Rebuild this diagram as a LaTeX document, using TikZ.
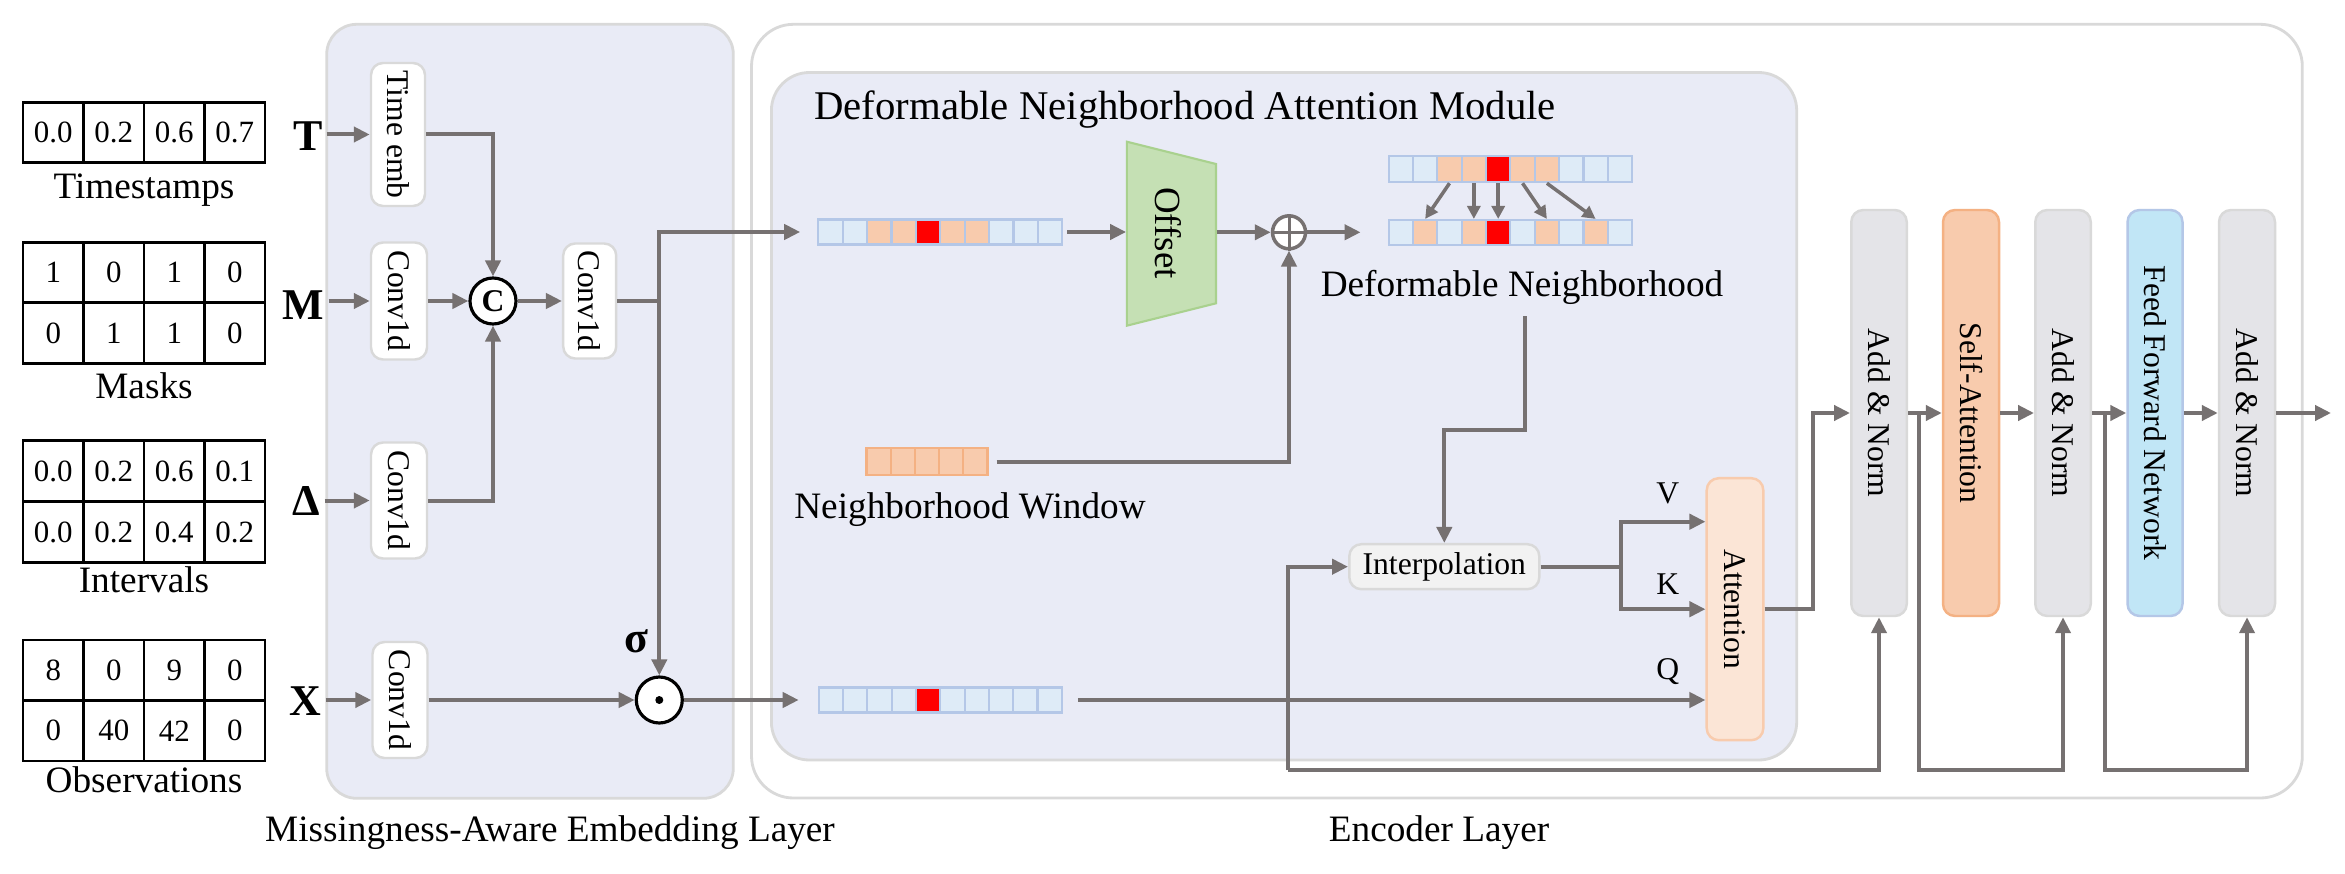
\documentclass[tikz,border=0pt]{standalone}
\usepackage{fontspec}
\setmainfont{Liberation Serif}
\usetikzlibrary{arrows.meta,calc}

\definecolor{arrgray}{RGB}{118,113,113}
\definecolor{panelbg}{RGB}{233,235,246}
\definecolor{panelbd}{RGB}{217,217,217}
\definecolor{cellblue}{RGB}{222,235,247}
\definecolor{cellbluebd}{RGB}{180,199,231}
\definecolor{cellorange}{RGB}{248,203,173}
\definecolor{orangebd}{RGB}{244,177,131}
\definecolor{attfill}{RGB}{251,229,214}
\definecolor{normfill}{RGB}{228,228,232}
\definecolor{ffnfill}{RGB}{193,230,246}
\definecolor{offsetfill}{RGB}{197,224,180}
\definecolor{offsetbd}{RGB}{169,209,142}
\definecolor{interpfill}{RGB}{242,242,242}

\begin{document}
\begin{tikzpicture}[x=0.1mm,y=-0.1mm,
  panel/.style={draw=panelbd,line width=0.8pt},
  box/.style={draw=panelbd,line width=0.7pt,fill=white,rounded corners=1.2mm,inner sep=0},
  ln/.style={draw=arrgray,line width=0.4mm},
  arr/.style={ln,-{Triangle[length=1.6mm,width=1.5mm]}},
  arrsmall/.style={draw=arrgray,line width=0.35mm,-{Triangle[length=1.3mm,width=1.3mm]}},
  tcell/.style={draw=black,line width=0.8pt,minimum width=6.05mm,minimum height=6.05mm,inner sep=0,font=\fontsize{8.8}{10}\selectfont},
  sq/.style={draw=cellbluebd,line width=0.6pt,minimum width=2.43mm,minimum height=2.5mm,inner sep=0},
  rot/.style={rotate=-90,font=\fontsize{9}{10}\selectfont,inner sep=0},
  lbl/.style={font=\fontsize{10.6}{12}\selectfont,inner sep=0},
  letter/.style={font=\fontsize{12.5}{14}\selectfont\bfseries,anchor=base east,inner sep=0},
  small/.style={font=\fontsize{9}{10}\selectfont,inner sep=0}]

\useasboundingbox (0,0) rectangle (2345,874);

% background panels
\draw[panel,fill=white,rounded corners=4.2mm] (751.5,24.3) rectangle (2302.3,798);
\draw[panel,fill=panelbg,rounded corners=3mm] (326.7,24.3) rectangle (733.3,798.3);
\draw[panel,fill=panelbg,rounded corners=3.8mm] (771.4,72.5) rectangle (1796.7,760);

% input tables
\foreach \v [count=\i from 0] in {0.0,0.2,0.6,0.7}
  \node[tcell] (ts\i) at ({53.25+\i*60.5},132.5) {\v};
\foreach \v [count=\i from 0] in {1,0,1,0}
  \node[tcell] (ma\i) at ({53.25+\i*60.5},272.5) {\v};
\foreach \v [count=\i from 0] in {0,1,1,0}
  \node[tcell] (mb\i) at ({53.25+\i*60.5},333) {\v};
\foreach \v [count=\i from 0] in {0.0,0.2,0.6,0.1}
  \node[tcell] (ia\i) at ({53.25+\i*60.5},471) {\v};
\foreach \v [count=\i from 0] in {0.0,0.2,0.4,0.2}
  \node[tcell] (ib\i) at ({53.25+\i*60.5},532) {\v};
\foreach \v [count=\i from 0] in {8,0,9,0}
  \node[tcell] (oa\i) at ({53.25+\i*60.5},670.3) {\v};
\foreach \v [count=\i from 0] in {0,40,42,0}
  \node[tcell] (ob\i) at ({53.25+\i*60.5},730.8) {\v};

\node[lbl,anchor=base] (tsl) at (144,198.3) {Timestamps};
\node[lbl,anchor=base] (mal) at (144,398.3) {Masks};
\node[lbl,anchor=base] (inl) at (144,592.7) {Intervals};
\node[lbl,anchor=base] (obl) at (144,792.7) {Observations};

\node[letter] (lT) at (323,150.7) {T};
\node[letter] (lM) at (325,319.3) {M};
\node[letter] (lD) at (321,515) {Δ};
\node[letter] (lX) at (322,715) {X};

% embedding layer blocks
\node[box,minimum width=5.4mm,minimum height=14.3mm] (timeemb) at (398,134.5) {};
\node[rot] (timeembT) at (timeemb) {Time emb};
\node[box,minimum width=5.6mm,minimum height=11.7mm] (convM) at (399,301) {};
\node[rot] (convMT) at (convM) {Conv1d};
\node[box,minimum width=5.6mm,minimum height=11.6mm] (convD) at (399,500.5) {};
\node[rot] (convDT) at (convD) {Conv1d};
\node[box,minimum width=5.5mm,minimum height=11.6mm] (convX) at (400,700) {};
\node[rot] (convXT) at (convX) {Conv1d};
\node[box,minimum width=5.3mm,minimum height=11.5mm] (convMid) at (589.7,301) {};
\node[rot] (convMidT) at (convMid) {Conv1d};

\node[circle,draw=black,line width=0.9pt,fill=white,minimum size=4.6mm,inner sep=0,
      font=\fontsize{9}{10}\selectfont\bfseries] (cc) at (493,301) {C};
\node[circle,draw=black,line width=0.9pt,fill=white,minimum size=4.6mm,inner sep=0] (odot) at (659.3,700) {};
\fill (odot.center) circle (0.4mm);
\node[font=\fontsize{12.5}{14}\selectfont\bfseries,inner sep=0] (sig) at (636,641) {σ};

\draw[arr,shorten <=0.35mm] (lT.east |- timeemb.west) -- (timeemb.west);
\draw[arr,shorten <=0.35mm] (lM.east |- convM.west) -- (convM.west);
\draw[arr,shorten <=0.35mm] (lD.east |- convD.west) -- (convD.west);
\draw[arr,shorten <=0.35mm] (lX.east |- convX.west) -- (convX.west);

\draw[arr] (timeemb.east) -| (cc.north);
\draw[arr] (convM.east) -- (cc.west);
\draw[arr] (convD.east) -| (cc.south);
\draw[arr] (cc.east) -- (convMid.west);
\coordinate (jn) at (659.3,301);
\draw[ln] (convMid.east) -- (jn);
\draw[arr] (jn) -- (odot.north);
\draw[arr] (convX.east) -- (odot.west);

% deformable neighborhood attention module
\node[font=\fontsize{11.6}{13}\selectfont,anchor=base west,inner sep=0] (title) at (813.6,120) {Deformable Neighborhood Attention Module};

\foreach \c [count=\i from 0] in {cellblue,cellblue,cellorange,cellorange,red,cellorange,cellorange,cellblue,cellblue,cellblue}
  \node[sq,fill=\c] (a\i) at ({830.4+\i*24.4},232) {};
\foreach \c [count=\i from 0] in {cellblue,cellblue,cellblue,cellblue,red,cellblue,cellblue,cellblue,cellblue,cellblue}
  \node[sq,fill=\c] (c\i) at ({830.9+\i*24.3},700) {};
\foreach \c [count=\i from 0] in {cellblue,cellblue,cellorange,cellorange,red,cellorange,cellorange,cellblue,cellblue,cellblue}
  \node[sq,fill=\c,minimum height=2.6mm] (t\i) at ({1400.8+\i*24.35},169.2) {};
\foreach \c [count=\i from 0] in {cellblue,cellorange,cellblue,cellorange,red,cellblue,cellorange,cellblue,cellorange,cellblue}
  \node[sq,fill=\c] (b\i) at ({1400.8+\i*24.35},232.5) {};
\foreach \i in {0,...,4}
  \node[sq,fill=cellorange,draw=orangebd,minimum height=2.7mm,minimum width=2.42mm] (w\i) at ({878.6+\i*24.2},461.8) {};

\draw[arr,shorten >=1.7mm] (jn) |- (a0.west);
\draw[arr,shorten >=1.9mm] (odot.east) -- (odot.east -| c0.west);

% offset network
\node[minimum width=8.92mm,minimum height=18.4mm,inner sep=0] (offset) at (1171.4,233.7) {};
\draw[draw=offsetbd,fill=offsetfill,line width=0.6pt]
  (1126.8,141.7) -- (1216,164) -- (1216,303.3) -- (1126.8,325.7) -- cycle;
\node[rot,font=\fontsize{10.5}{12}\selectfont] (offsetT) at (1168,233) {Offset};

\node[circle,draw=arrgray,line width=0.35mm,fill=white,minimum size=3.3mm,inner sep=0] (oplus) at (1289,232.3) {};
\draw[draw=arrgray,line width=0.3mm] (oplus.north) -- (oplus.south) (oplus.west) -- (oplus.east);

\draw[arr,shorten <=0.4mm] (a9.east) -- (a9.east -| offset.west);
\draw[arr] (offset.east |- oplus.west) -- (oplus.west);
\draw[arr,shorten >=2.7mm] (oplus.east) -- (oplus.east -| b0.west);
\draw[arr,shorten <=0.8mm] (w4.east) -| (oplus.south);

\draw[arrsmall] (t2.south) -- (b1.north);
\draw[arrsmall] (t3.south) -- (b3.north);
\draw[arrsmall] (t4.south) -- (b4.north);
\draw[arrsmall] (t5.south) -- (b6.north);
\draw[arrsmall] (t6.south) -- (b8.north);

\node[lbl,anchor=base] (dnlbl) at (1522,296.7) {Deformable Neighborhood};
\node[lbl,anchor=base] (nwlbl) at (970,518.3) {Neighborhood Window};

\node[box,fill=interpfill,minimum width=19mm,minimum height=4.5mm,font=\fontsize{9}{10}\selectfont] (interp) at (1444.3,566.7) {Interpolation};
\coordinate (dnout) at (1525,316);
\draw[arr] (dnout) -- (1525,430) -| (interp.north);

\node[box,fill=attfill,draw=cellorange,minimum width=5.66mm,minimum height=26.2mm] (att) at (1735,609.2) {};
\node[rot] (attT) at (att) {Attention};

\coordinate (vk) at (1621,566.7);
\draw[ln] (interp.east) -- (vk);
\draw[arr] (vk) |- ([yshift=8.75mm]att.west);
\draw[arr] (vk) |- (att.west);
\draw[arr,shorten <=1.5mm] (c9.east) -- (c9.east -| att.west);
\node[small] (lv) at (1667.7,493.3) {V};
\node[small] (lk) at (1667.7,584) {K};
\node[small] (lq) at (1667.7,671.7) {Q};

% encoder stack
\node[box,fill=normfill,minimum width=5.55mm,minimum height=40.6mm] (an1) at (1879,413) {};
\node[rot] (an1T) at (an1) {Add \& Norm};
\node[box,fill=cellorange,draw=orangebd,minimum width=5.6mm,minimum height=40.6mm] (sa) at (1971,413) {};
\node[rot] (saT) at (sa) {Self-Attention};
\node[box,fill=normfill,minimum width=5.55mm,minimum height=40.6mm] (an2) at (2063,413) {};
\node[rot] (an2T) at (an2) {Add \& Norm};
\node[box,fill=ffnfill,draw=cellbluebd,minimum width=5.5mm,minimum height=40.6mm] (ffn) at (2155,413) {};
\node[rot] (ffnT) at (ffn) {Feed Forward Network};
\node[box,fill=normfill,minimum width=5.6mm,minimum height=40.6mm] (an3) at (2247,413) {};
\node[rot] (an3T) at (an3) {Add \& Norm};

\draw[arr] (att.east) -- (1813,609.2) |- (an1.west);
\draw[arr] (an1.east) -- (sa.west);
\draw[arr] (sa.east) -- (an2.west);
\draw[arr] (an2.east) -- (ffn.west);
\draw[arr] (ffn.east) -- (an3.west);
\coordinate (out) at (2331,413);
\draw[arr] (an3.east) -- (out);

\coordinate (c1) at (1288,770);
\draw[arr] (c1) |- (interp.west);
\draw[arr] (c1) -| (an1.south);
\coordinate (j1) at (1919,413);
\draw[arr] (j1) -- (1919,770) -| (an2.south);
\coordinate (j2) at (2104.5,413);
\draw[arr] (j2) -- (2104.5,770) -| (an3.south);

% layer captions
\node[lbl,anchor=base] (l1) at (550,841) {Missingness-Aware Embedding Layer};
\node[lbl,anchor=base] (l2) at (1439,841) {Encoder Layer};

\end{tikzpicture}
\end{document}
